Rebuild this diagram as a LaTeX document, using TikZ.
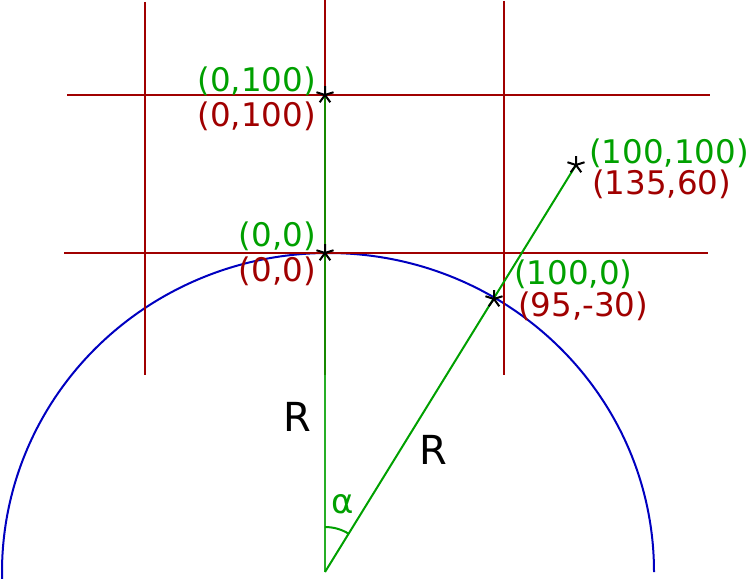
\documentclass[tikz,border=0pt]{standalone}
\usepackage{fontspec}
\setmainfont{DejaVu Sans}
\usetikzlibrary{plotmarks}
\definecolor{gridred}{RGB}{160,0,0}
\definecolor{mygreen}{RGB}{0,160,0}
\definecolor{myblue}{RGB}{0,0,192}
\tikzset{
  gridline/.style={gridred,line width=2pt},
  greenline/.style={mygreen,line width=2pt},
  circleline/.style={myblue,line width=2pt},
  glabel/.style={text=mygreen,inner sep=0pt,font=\fontsize{32.5}{36}\selectfont},
  rlabel/.style={text=gridred,inner sep=0pt,font=\fontsize{32.5}{36}\selectfont},
  blabel/.style={text=black,inner sep=0pt,font=\fontsize{40}{44}\selectfont},
  starmark/.style={black,line width=2pt,mark=star,mark size=9pt}
}
\begin{document}
\begin{tikzpicture}[x=1pt,y=-1pt]
\useasboundingbox (0,0) rectangle (749,578);
\clip (0,0) rectangle (749,578);
% points
\coordinate (O) at (325,572);
\coordinate (P00) at (325,253);
\coordinate (P0h) at (325,95);
\coordinate (Ph0) at (494,299);
\coordinate (Phh) at (576,165);
% grid ends
\coordinate (v1t) at (145,2);   \coordinate (v1b) at (145,375);
\coordinate (v2t) at (325,0);   \coordinate (v2b) at (325,375);
\coordinate (v3t) at (504,1);   \coordinate (v3b) at (504,375);
\coordinate (h1l) at (67,95);   \coordinate (h1r) at (710,95);
\coordinate (h2l) at (64,253);  \coordinate (h2r) at (708,253);
% circle
\draw[circleline] (654,572) arc[start angle=0,end angle=183,x radius=326,y radius=-319];
% grid
\draw[gridline] (v1t) -- (v1b);
\draw[gridline] (v2t) -- (v2b);
\draw[gridline] (v3t) -- (v3b);
\draw[gridline] (h1l) -- (h1r);
\draw[gridline] (h2l) -- (h2r);
% green rays
\draw[greenline,opacity=0.85] (O) -- (P0h);
\draw[greenline] (O) -- (Phh);
% angle arc
\coordinate (a1) at (325,527);
\draw[greenline] (a1) arc[start angle=-90,end angle=-58.3,radius=45];
% markers
\foreach \p in {P00,P0h,Ph0,Phh} \draw[starmark] plot coordinates {(\p)};
% labels
\node[glabel,anchor=base east] (g0h) at (316,92) {(0,100)};
\node[rlabel,anchor=base east] (r0h) at (316,126) {(0,100)};
\node[glabel,anchor=base east] (g00) at (316,246) {(0,0)};
\node[rlabel,anchor=base east] (r00) at (316,281) {(0,0)};
\node[glabel,anchor=base west] (gh0) at (514,284) {(100,0)};
\node[rlabel,anchor=base west] (rh0) at (518,316) {(95,-30)};
\node[glabel,anchor=base west] (ghh) at (589,163) {(100,100)};
\node[rlabel,anchor=base west] (rhh) at (592,194) {(135,60)};
\node[blabel,anchor=base west] (R1) at (283,431) {R};
\node[blabel,anchor=base west] (R2) at (419,464) {R};
\node[text=mygreen,inner sep=0pt,anchor=base west,font=\fontsize{34}{38}\selectfont] (alpha) at (331,513) {α};
\end{tikzpicture}
\end{document}
